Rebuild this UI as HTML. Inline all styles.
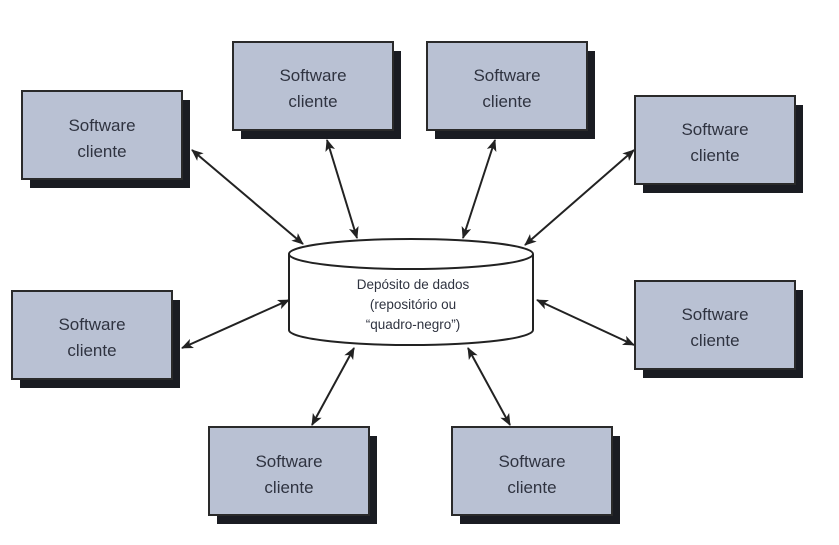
<!DOCTYPE html>
<html><head><meta charset="utf-8"><style>
html,body{margin:0;padding:0;background:#fff;}
svg{display:block;}
text{font-family:"Liberation Sans",sans-serif;fill:#2f3340;}
</style></head><body>
<svg width="839" height="545" viewBox="0 0 839 545">
<defs>
<marker id="a" markerWidth="12" markerHeight="10" refX="11" refY="5" orient="auto-start-reverse" markerUnits="userSpaceOnUse">
<path d="M0,0 L12,5 L0,10 L3,5 Z" fill="#222"/>
</marker>
</defs>
<g stroke="#222" stroke-width="2" fill="none" marker-start="url(#a)" marker-end="url(#a)">
<line x1="192" y1="150" x2="303" y2="244"/>
<line x1="327" y1="140" x2="357" y2="238"/>
<line x1="495" y1="140" x2="463" y2="238"/>
<line x1="634" y1="150" x2="525" y2="245"/>
<line x1="182" y1="348" x2="289" y2="300"/>
<line x1="634" y1="345" x2="537" y2="300"/>
<line x1="312" y1="425" x2="354" y2="348"/>
<line x1="510" y1="425" x2="468" y2="348"/>
</g>
<g>
<path d="M289,254 L289,330 A122,15 0 0 0 533,330 L533,254" fill="#fff" stroke="#222" stroke-width="2"/>
<ellipse cx="411" cy="254" rx="122" ry="15" fill="#fff" stroke="#222" stroke-width="2"/>
<text x="413" y="289" font-size="13.5" text-anchor="middle">Depósito de dados</text>
<text x="413" y="309" font-size="13.5" text-anchor="middle">(repositório ou</text>
<text x="413" y="329" font-size="13.5" text-anchor="middle">“quadro-negro”)</text>
</g>
<g font-size="17">
<rect x="30" y="100" width="160" height="88" fill="#1a1c22"/><rect x="22" y="91" width="160" height="88" fill="#b9c1d3" stroke="#2a2a2a" stroke-width="2"/>
<text x="102" y="131" text-anchor="middle">Software</text><text x="102" y="157" text-anchor="middle">cliente</text>

<rect x="241" y="51" width="160" height="88" fill="#1a1c22"/><rect x="233" y="42" width="160" height="88" fill="#b9c1d3" stroke="#2a2a2a" stroke-width="2"/>
<text x="313" y="81" text-anchor="middle">Software</text><text x="313" y="107" text-anchor="middle">cliente</text>

<rect x="435" y="51" width="160" height="88" fill="#1a1c22"/><rect x="427" y="42" width="160" height="88" fill="#b9c1d3" stroke="#2a2a2a" stroke-width="2"/>
<text x="507" y="81" text-anchor="middle">Software</text><text x="507" y="107" text-anchor="middle">cliente</text>

<rect x="643" y="105" width="160" height="88" fill="#1a1c22"/><rect x="635" y="96" width="160" height="88" fill="#b9c1d3" stroke="#2a2a2a" stroke-width="2"/>
<text x="715" y="135" text-anchor="middle">Software</text><text x="715" y="161" text-anchor="middle">cliente</text>

<rect x="20" y="300" width="160" height="88" fill="#1a1c22"/><rect x="12" y="291" width="160" height="88" fill="#b9c1d3" stroke="#2a2a2a" stroke-width="2"/>
<text x="92" y="330" text-anchor="middle">Software</text><text x="92" y="356" text-anchor="middle">cliente</text>

<rect x="643" y="290" width="160" height="88" fill="#1a1c22"/><rect x="635" y="281" width="160" height="88" fill="#b9c1d3" stroke="#2a2a2a" stroke-width="2"/>
<text x="715" y="320" text-anchor="middle">Software</text><text x="715" y="346" text-anchor="middle">cliente</text>

<rect x="217" y="436" width="160" height="88" fill="#1a1c22"/><rect x="209" y="427" width="160" height="88" fill="#b9c1d3" stroke="#2a2a2a" stroke-width="2"/>
<text x="289" y="467" text-anchor="middle">Software</text><text x="289" y="493" text-anchor="middle">cliente</text>

<rect x="460" y="436" width="160" height="88" fill="#1a1c22"/><rect x="452" y="427" width="160" height="88" fill="#b9c1d3" stroke="#2a2a2a" stroke-width="2"/>
<text x="532" y="467" text-anchor="middle">Software</text><text x="532" y="493" text-anchor="middle">cliente</text>
</g>
</svg>
</body></html>
